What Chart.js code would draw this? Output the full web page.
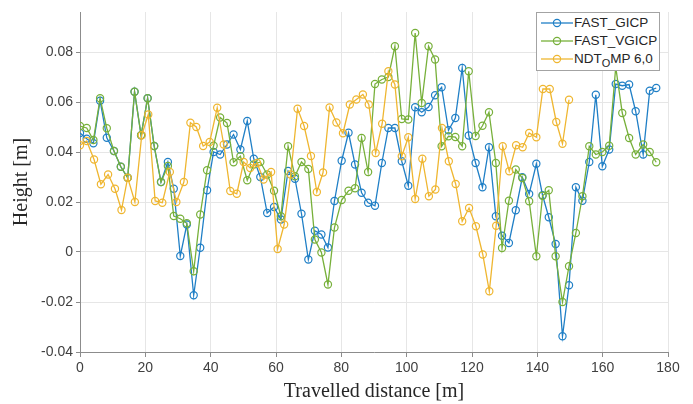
<!DOCTYPE html>
<html>
<head>
<meta charset="utf-8">
<script src="https://cdn.jsdelivr.net/npm/chart.js@4.4.1/dist/chart.umd.min.js"></script>
<style>
  html, body { margin: 0; padding: 0; background: #fff; }
  #wrap { position: relative; width: 693px; height: 404px; }
  #legend {
    position: absolute; left: 536px; top: 12px; width: 124px; height: 59px;
    box-sizing: border-box; border: 1px solid #a3a3a3; background: #fff;
    padding-top: 1px; font: 13.5px "Liberation Sans", Arial, sans-serif; color: #262626;
  }
  .lg-row { position: relative; height: 18px; line-height: 18px; white-space: nowrap; }
  .lg-row svg { position: absolute; left: 3px; top: 0; }
  .lg-row span.t { position: absolute; left: 37px; top: 0; }
  .lg-row sub { font-size: 11px; vertical-align: -4px; line-height: 0; }
</style>
</head>
<body>
<div id="wrap">
  <canvas id="chart" width="693" height="404"></canvas>
  <div id="legend"></div>
</div>
<script>
/* ── Dados ── */
const distance = [0, 2.05, 4.1, 6.15, 8.2, 10.4, 12.5, 14.6, 16.7, 18.7,
  20.7, 22.7, 24.8, 26.9, 28.7, 30.7, 32.7, 34.8, 36.8, 38.9,
  40.9, 42.9, 45, 47, 49.1, 51.2, 53.2, 55.2, 57.3, 59.4,
  61.5, 63.7, 65.8, 67.8, 69.9, 71.9, 73.9, 75.9, 77.9, 80.1,
  82.2, 84.2, 86.2, 88.2, 90.3, 92.4, 94.4, 96.4, 98.5, 100.5,
  102.6, 104.6, 106.7, 108.7, 110.7, 112.8, 114.9, 117, 119, 121.1,
  123.2, 125.2, 127.3, 129.2, 131.3, 133.4, 135.4, 137.5, 139.7, 141.6,
  143.5, 145.6, 147.7, 149.7, 151.8, 153.8, 155.9, 157.9, 159.9, 162,
  164, 166, 168.1, 170.1, 172.4, 174.4, 176.4];

const fastGicp = [0.0476, 0.0453, 0.0435, 0.0605, 0.0457, 0.0404, 0.0341, 0.0297, 0.0641, 0.0467,
  0.0615, 0.0424, 0.028, 0.036, 0.0253, -0.0016, 0.011, -0.0173, 0.0017, 0.0247,
  0.040, 0.039, 0.043, 0.047, 0.041, 0.0524, 0.0373, 0.030, 0.0156, 0.018,
  0.013, 0.0324, 0.0293, 0.0153, -0.003, 0.0085, 0.007, 0.0018, 0.0204, 0.0365,
  0.0477, 0.035, 0.0237, 0.0197, 0.0185, 0.0356, 0.0496, 0.0496, 0.0363, 0.0265,
  0.0579, 0.0559, 0.058, 0.0627, 0.0659, 0.0487, 0.0536, 0.0736, 0.0466, 0.0356,
  0.0259, 0.0419, 0.0143, 0.0065, 0.0036, 0.0167, 0.0299, 0.0232, 0.0353, 0.0227,
  0.0139, 0.0032, -0.0337, -0.0133, 0.0259, 0.0205, 0.036, 0.0629, 0.0343, 0.041,
  0.0672, 0.0665, 0.067, 0.0563, 0.039, 0.0645, 0.0656];

const fastVgicp = [0.0504, 0.0496, 0.0448, 0.0615, 0.0495, 0.0404, 0.0341, 0.0297, 0.0641, 0.0467,
  0.0615, 0.0424, 0.028, 0.0344, 0.0144, 0.0133, 0.0115, -0.0077, 0.015, 0.0327,
  0.0425, 0.0538, 0.0516, 0.0359, 0.0383, 0.0287, 0.035, 0.036, 0.031, 0.0245,
  0.0143, 0.0423, 0.0303, 0.036, 0.0332, 0.005, -0.0002, -0.013, 0.0098, 0.0208,
  0.0245, 0.0255, 0.0456, 0.032, 0.0672, 0.069, 0.070, 0.0823, 0.0532, 0.053,
  0.0876, 0.0596, 0.0823, 0.077, 0.0423, 0.0463, 0.046, 0.0423, 0.0723, 0.0464,
  0.0505, 0.0559, 0.0356, 0.0016, 0.0205, 0.033, 0.0296, 0.0203, -0.0017, 0.0225,
  0.0247, -0.0017, -0.02, -0.0057, 0.0076, 0.0223, 0.0423, 0.039, 0.040, 0.0425,
  0.074, 0.0556, 0.0456, 0.039, 0.043, 0.040, 0.0359];

const ndtDistance = [0, 2.05, 4.3, 6.4, 8.6, 10.7, 12.7, 14.6, 16.8, 18.9,
  20.9, 23, 25.2, 27.5, 29.5, 31.8, 33.8, 35.6, 37.7, 39.7,
  42, 44, 46, 48, 50.1, 52.1, 54.2, 56.2, 58.5, 60.5,
  62.5, 64.5, 66.6, 68.6, 70.7, 72.5, 74.4, 76.4, 78.5, 80.5,
  82.6, 84.6, 86.6, 88.4, 90.5, 92.5, 94.4, 96.4, 98.5, 100.5,
  102.6, 104.8, 106.8, 108.8, 110.8, 112.9, 115, 117, 119.1, 121.2,
  123.3, 125.3, 127.4, 129.4, 131.4, 133.5, 135.5, 137.5, 139.7, 141.7,
  143.8, 145.8, 147.7, 149.7];

const ndtOmp = [0.0427, 0.0444, 0.037, 0.0271, 0.031, 0.0253, 0.0168, 0.0297, 0.020, 0.0467,
  0.055, 0.0204, 0.0197, 0.032, 0.020, 0.028, 0.0517, 0.050, 0.0424, 0.044,
  0.0577, 0.043, 0.0244, 0.0233, 0.036, 0.0336, 0.0356, 0.029, 0.032, 0.0012,
  0.011, 0.031, 0.0573, 0.0504, 0.0384, 0.024, 0.0318, 0.0578, 0.0518, 0.0475,
  0.059, 0.061, 0.063, 0.059, 0.0396, 0.0513, 0.0723, 0.067, 0.0383, 0.0459,
  0.0212, 0.0373, 0.0223, 0.025, 0.0496, 0.0363, 0.0272, 0.0123, 0.0176, 0.0103,
  -0.001, -0.0157, 0.0105, 0.0423, 0.0323, 0.0427, 0.0419, 0.0476, 0.0459, 0.0652,
  0.0652, 0.052, 0.0433, 0.0609];

// eixos: limites e passo das marcas
const xRange = [0, 180], xStep = 20;
const yRange = [-0.04, 0.096], yStep = 0.02;

/* ── Séries ── */
const SERIES = [
  { label: 'FAST_GICP',   html: 'FAST_GICP',             color: '#1f7fc6', xs: distance,    ys: fastGicp,  order: 3 },
  { label: 'FAST_VGICP',  html: 'FAST_VGICP',            color: '#77b03a', xs: distance,    ys: fastVgicp, order: 2 },
  { label: 'NDT_OMP 6,0', html: 'NDT<sub>O</sub>MP 6,0', color: '#efb630', xs: ndtDistance, ys: ndtOmp,    order: 1 },
];

const datasets = SERIES.map(s => ({
  label: s.label,
  data: s.xs.map((x, i) => ({ x, y: s.ys[i] })),
  borderColor: s.color,
  backgroundColor: 'rgba(0,0,0,0)',
  borderWidth: 1.3,
  pointRadius: 3.6,
  pointBorderWidth: 1.2,
  pointBackgroundColor: 'rgba(0,0,0,0)',
  pointBorderColor: s.color,
  tension: 0,
  order: s.order,
}));

const TICK_FONT = { family: '"Liberation Sans", Arial, sans-serif', size: 14 };
const TITLE_FONT = { family: '"Liberation Serif", "Times New Roman", serif', size: 20 };
const AXIS_GRAY = '#8c8c8c';

// garante o rótulo do último tick do eixo x (180) quando ele não é desenhado
const lastTickLabel = {
  id: 'lastTickLabel',
  afterDraw(chart) {
    try {
      const x = chart.scales.x;
      const items = x.getLabelItems(chart.chartArea);
      if (!items.length) return;
      const px = x.getPixelForValue(xRange[1]);
      if (items.some(it => Math.abs(it.options.translation[0] - px) < 1)) return;
      const ref = items[items.length - 1];
      const ctx = chart.ctx;
      ctx.save();
      ctx.strokeStyle = AXIS_GRAY;
      ctx.lineWidth = 1;
      ctx.beginPath();
      ctx.moveTo(Math.round(px) - 0.5, x.top);
      ctx.lineTo(Math.round(px) - 0.5, x.top + 5);
      ctx.stroke();
      ctx.font = ref.font.string;
      ctx.fillStyle = ref.options.color;
      ctx.textAlign = ref.options.textAlign;
      ctx.textBaseline = ref.options.textBaseline;
      ctx.fillText(String(xRange[1]), px, ref.options.translation[1] + (ref.textOffset || 0));
      ctx.restore();
    } catch (e) { /* sem fallback */ }
  },
};

new Chart(document.getElementById('chart').getContext('2d'), {
  type: 'line',
  data: { datasets },
  plugins: [lastTickLabel],
  options: {
    responsive: false,
    animation: false,
    devicePixelRatio: 1,
    layout: { padding: { top: 12, right: 25, left: 0, bottom: 0 } },
    plugins: { legend: { display: false }, tooltip: { enabled: false } },
    scales: {
      x: {
        type: 'linear', min: xRange[0], max: xRange[1],
        afterFit: s => { s.height = 52; },
        ticks: { stepSize: xStep, font: TICK_FONT, color: '#404040', padding: 3, maxRotation: 0, autoSkip: false },
        grid: { color: '#e6e6e6', tickColor: AXIS_GRAY, tickLength: 5 },
        border: { color: AXIS_GRAY, width: 1 },
        title: { display: true, text: 'Travelled distance [m]', font: TITLE_FONT, color: '#262626', padding: { top: 0, bottom: 0 } },
      },
      y: {
        type: 'linear', min: yRange[0], max: yRange[1],
        afterFit: s => { s.width = 80; },
        ticks: { stepSize: yStep, includeBounds: false, font: TICK_FONT, color: '#404040', padding: 3, autoSkip: false,
                 callback: v => String(Math.round(v * 100) / 100) },
        grid: { color: '#e6e6e6', tickColor: AXIS_GRAY, tickLength: 4 },
        border: { color: AXIS_GRAY, width: 1 },
        title: { display: true, text: 'Height [m]', font: TITLE_FONT, color: '#262626', padding: { top: 10, bottom: 0 } },
      },
    },
  },
});

/* ── Legenda (HTML, com subscrito) ── */
document.getElementById('legend').innerHTML = SERIES.map(s => `
  <div class="lg-row">
    <svg width="34" height="18"><line x1="1" y1="9" x2="33" y2="9" stroke="${s.color}" stroke-width="1.3"/>
      <circle cx="17" cy="9" r="3.6" fill="none" stroke="${s.color}" stroke-width="1.2"/></svg>
    <span class="t">${s.html}</span>
  </div>`).join('');
</script>
</body>
</html>
